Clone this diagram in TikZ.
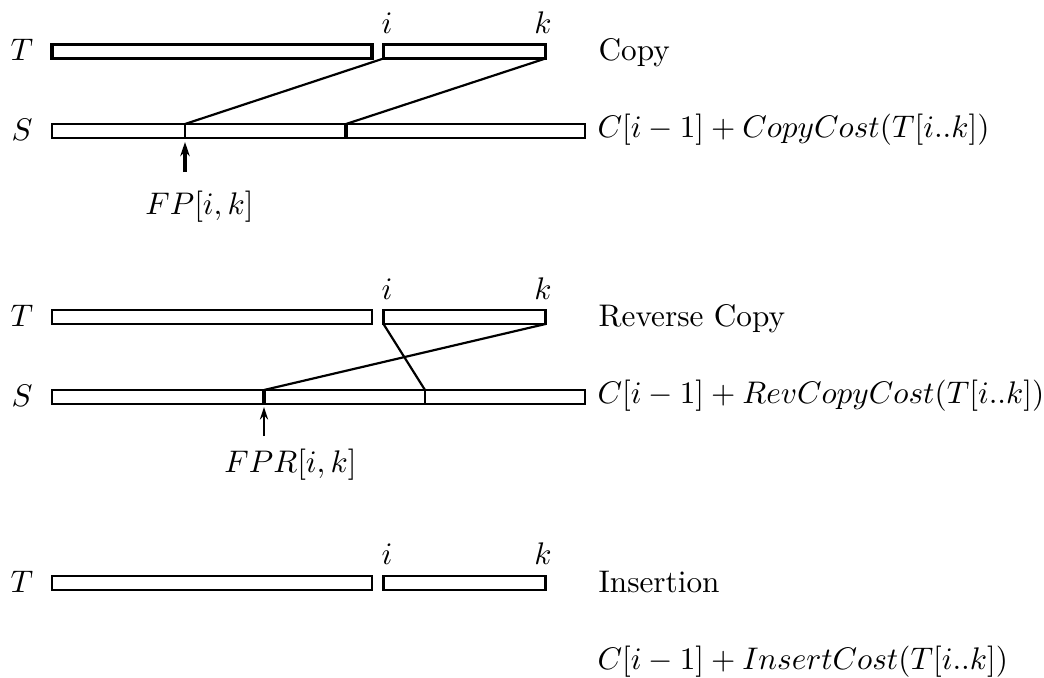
\documentclass[tikz,border=0pt]{standalone}
\usetikzlibrary{arrows.meta}
\begin{document}
\begin{tikzpicture}[x=0.32pt,y=-0.32pt,
  bar/.style={draw, line width=0.7pt, inner sep=0pt, outer sep=0pt, minimum height=4.48pt},
  thickbar/.style={bar, line width=1.0pt},
  link/.style={line width=0.7pt},
  divider/.style={line width=0.65pt},
  thickdiv/.style={line width=1.0pt},
  ptr/.style={-{Stealth[length=4pt,width=2.6pt]}, line width=0.6pt},
  thickptr/.style={-{Stealth[length=4.5pt,width=3pt]}, line width=1.05pt},
  lbl/.style={inner sep=0pt, anchor=base},
  txt/.style={inner sep=0pt, anchor=base west},
]
\useasboundingbox (0,0) rectangle (1044,677);

% ---------------- Panel 1: Copy ----------------
\node[thickbar, minimum width=102.4pt] (T1a) at (212,51.5) {};
\node[thickbar, minimum width=51.84pt] (T1b) at (464.5,51.5) {};
\node[bar, minimum width=170.56pt] (S1) at (318.5,131) {};
\node[lbl] (T1l) at (22,60) {$T$};
\node[lbl] (S1l) at (22,140) {$S$};
\node[lbl] (i1) at (387,33) {$i$};
\node[lbl] (k1) at (543,33) {$k$};
\coordinate (d11) at (185,124);
\coordinate (d12) at (346,124);
\draw[divider] (d11) -- (d11 |- S1.south);
\draw[thickdiv] (d12) -- (d12 |- S1.south);
\draw[link] (T1b.south west) -- (d11);
\draw[link] (T1b.south east) -- (d12);
\coordinate (a1) at (185,172);
\coordinate (a1t) at (185,142);
\draw[thickptr] (a1) -- (a1t);
\node[lbl] (fp) at (199.5,214) {$FP[i,k]$};
\node[txt] (op1) at (598,60) {Copy};
\node[txt] (c1) at (597,137) {$C[i-1]+CopyCost(T[i..k])$};

% ---------------- Panel 2: Reverse Copy ----------------
\node[bar, minimum width=102.4pt] (T2a) at (212,317) {};
\node[bar, minimum width=51.84pt] (T2b) at (464.5,317) {};
\node[bar, minimum width=170.56pt] (S2) at (318.5,397) {};
\node[lbl] (T2l) at (22,326) {$T$};
\node[lbl] (S2l) at (22,406) {$S$};
\node[lbl] (i2) at (387,299) {$i$};
\node[lbl] (k2) at (543,299) {$k$};
\coordinate (d21) at (264,390);
\coordinate (d22) at (425,390);
\draw[thickdiv] (d21) -- (d21 |- S2.south);
\draw[divider] (d22) -- (d22 |- S2.south);
\draw[link] (T2b.south west) -- (d22);
\draw[link] (T2b.south east) -- (d21);
\coordinate (a2) at (264,436);
\coordinate (a2t) at (264,407);
\draw[ptr] (a2) -- (a2t);
\node[lbl] (fpr) at (290.5,472) {$FPR[i,k]$};
\node[txt] (op2) at (598,326) {Reverse Copy};
\node[txt] (c2) at (597,403) {$C[i-1]+RevCopyCost(T[i..k])$};

% ---------------- Panel 3: Insertion ----------------
\node[bar, minimum width=102.4pt] (T3a) at (212,583) {};
\node[bar, minimum width=51.84pt] (T3b) at (464.5,583) {};
\node[lbl] (T3l) at (22,592) {$T$};
\node[lbl] (i3) at (387,564) {$i$};
\node[lbl] (k3) at (543,564) {$k$};
\node[txt] (op3) at (598,592) {Insertion};
\node[txt] (c3) at (597,669) {$C[i-1]+InsertCost(T[i..k])$};
\end{tikzpicture}
\end{document}
